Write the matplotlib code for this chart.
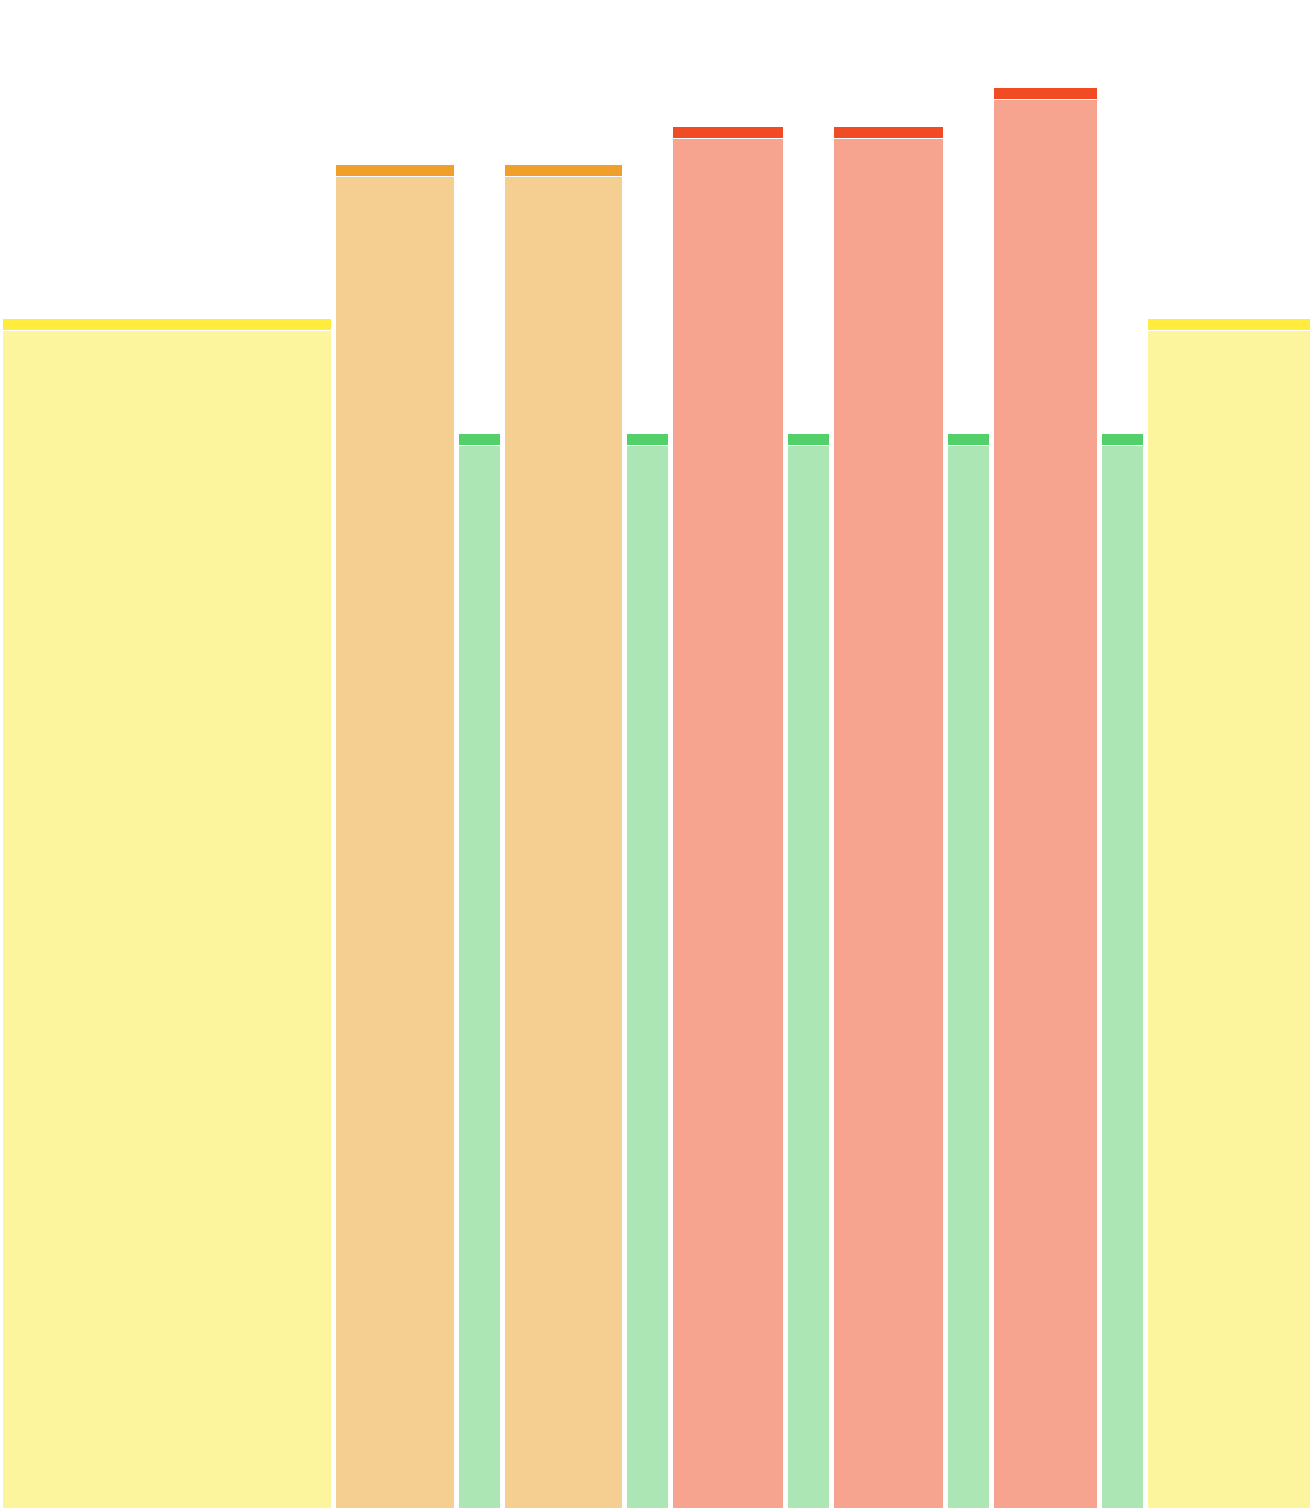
import numpy as np
import matplotlib
matplotlib.use("Agg")
import matplotlib.pyplot as plt

# workout blocks: kind of each block, its duration and its intensity
kinds = ["warmup", "tempo", "rest", "tempo", "rest", "hard", "rest",
         "hard", "rest", "max", "rest", "cooldown"]
durations = [333, 123, 46, 122, 46, 115, 46, 114, 46, 108, 46, 167]
intensity = [1189, 1343, 1074, 1343, 1074, 1381, 1074, 1381, 1074, 1420, 1074, 1189]

light = {"warmup": "#fdf49e", "cooldown": "#fdf49e", "tempo": "#f5cf91",
         "rest": "#abe6b4", "hard": "#f6a48f", "max": "#f6a48f"}
dark = {"warmup": "#ffec3c", "cooldown": "#ffec3c", "tempo": "#f0a02a",
        "rest": "#54d06b", "hard": "#f04b24", "max": "#f04b24"}

GAP = 5     # white space between blocks
CAP = 12    # height of the darker top strip
LINE = 1    # white line between strip and body

fig = plt.figure(figsize=(13.12, 15.08), dpi=100)
ax = fig.add_axes([0, 0, 1, 1])

starts = 3 + np.concatenate([[0], np.cumsum(durations)[:-1]])
for k, x0, w, h in zip(kinds, starts, durations, intensity):
    ax.bar(x0, h - CAP, width=w - GAP, align="edge", color=light[k], linewidth=0)
    ax.bar(x0, CAP - LINE, width=w - GAP, bottom=h - CAP + LINE, align="edge",
           color=dark[k], linewidth=0)

ax.set_xlim(0, 1312)
ax.set_ylim(0, 1508)
ax.axis("off")
fig.savefig("out.png", dpi=100, facecolor="white")
